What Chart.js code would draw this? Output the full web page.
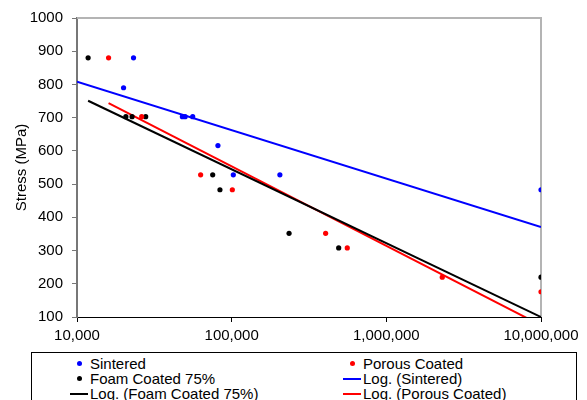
<!DOCTYPE html>
<html>
<head>
<meta charset="utf-8">
<script src="https://cdn.jsdelivr.net/npm/chart.js@4.4.1/dist/chart.umd.min.js"></script>
<style>
  html, body { margin: 0; padding: 0; background: #fff; }
  #wrap { position: relative; width: 587px; height: 400px; overflow: hidden; }
  #legend {
    position: absolute; left: 31px; top: 352px; width: 546px; height: 60px;
    border: 1px solid #000; box-sizing: border-box; background: #fff;
    font: 15px 'Liberation Sans', Arial, sans-serif; color: #000;
  }
  .lg-text { position: absolute; height: 15px; line-height: 15px; white-space: nowrap; }
  .lg-dot { position: absolute; width: 5px; height: 5px; border-radius: 50%; }
  .lg-line { position: absolute; width: 18px; height: 2px; }
</style>
</head>
<body>
<div id="wrap">
  <canvas id="fatigueChart" width="587" height="400"></canvas>
  <div id="legend"></div>
</div>
<script>
const xTicks = [10000, 100000, 1000000, 10000000]

const sinteredCycles = [20000, 23200, 48000, 50000, 56000, 81500, 102500, 205000, 10000000]
const sinteredStress = [790, 880, 703, 703, 703, 616, 528, 528, 483]

const porousCycles = [16000, 26200, 63000, 101000, 405000, 559000, 2300000, 10000000]
const porousStress = [880, 703, 528, 483, 352, 308, 220, 176]

const foamCycles = [11800, 20700, 22700, 27800, 75400, 84000, 235000, 492000, 10000000]
const foamStress = [880, 703, 703, 703, 528, 483, 352, 308, 220]

// log trendline end points
const sinteredFitCycles = [10000, 10000000]
const sinteredFitStress = [808, 371]
const foamFitCycles = [11800, 10000000]
const foamFitStress = [751, 100]
const porousFitCycles = [16000, 10000000]
const porousFitStress = [744, 75]

const toPoints = (xs, ys) => xs.map((x, i) => ({ x, y: ys[i] }))

const font = { family: "'Liberation Sans', Arial, sans-serif", size: 15 }

const plotFrame = {
  id: 'plotFrame',
  beforeDatasetsDraw(chart) {
    const { ctx, chartArea } = chart
    ctx.save()
    ctx.strokeStyle = '#b4b4b4'
    ctx.lineWidth = 2
    ctx.beginPath()
    ctx.moveTo(chartArea.left, chartArea.top)
    ctx.lineTo(chartArea.right, chartArea.top)
    ctx.lineTo(chartArea.right, chartArea.bottom)
    ctx.stroke()
    ctx.restore()
  },
}

const scatterSet = (label, color, xs, ys) => ({
  label,
  data: toPoints(xs, ys),
  showLine: false,
  backgroundColor: color,
  borderColor: color,
  pointRadius: 2.6,
  pointBorderWidth: 0,
})

const fitSet = (label, color, xs, ys) => ({
  label,
  data: toPoints(xs, ys),
  showLine: true,
  borderColor: color,
  backgroundColor: color,
  borderWidth: 2,
  pointRadius: 0,
})

const chart = new Chart(document.getElementById('fatigueChart'), {
  type: 'scatter',
  data: {
    datasets: [
      scatterSet('Sintered', '#0000ff', sinteredCycles, sinteredStress),
      scatterSet('Porous Coated', '#ff0000', porousCycles, porousStress),
      scatterSet('Foam Coated 75%', '#000000', foamCycles, foamStress),
      fitSet('Log. (Sintered)', '#0000ff', sinteredFitCycles, sinteredFitStress),
      fitSet('Log. (Foam Coated 75%)', '#000000', foamFitCycles, foamFitStress),
      fitSet('Log. (Porous Coated)', '#ff0000', porousFitCycles, porousFitStress),
    ],
  },
  options: {
    responsive: false,
    animation: false,
    layout: { padding: { top: 16, right: 46, left: 0, bottom: 0 } },
    plugins: {
      legend: { display: false },
      tooltip: { enabled: false },
    },
    scales: {
      x: {
        type: 'logarithmic',
        min: 10000,
        max: 10000000,
        afterBuildTicks(scale) {
          scale.ticks = xTicks.map((value) => ({ value }))
        },
        afterFit(scale) {
          scale.height = 83
        },
        ticks: {
          autoSkip: false,
          maxRotation: 0,
          padding: 5,
          color: '#000',
          font,
          callback: (value) => Number(value).toLocaleString('en-US'),
        },
        grid: { drawOnChartArea: false, tickLength: 5, color: '#000' },
        border: { color: '#000', width: 1 },
      },
      y: {
        min: 100,
        max: 1000,
        afterFit(scale) {
          scale.width = 77
        },
        ticks: {
          stepSize: 100,
          padding: 9,
          color: '#000',
          font,
          callback: (value) => String(value),
        },
        grid: { drawOnChartArea: false, tickLength: 5, color: '#777' },
        border: { color: '#777', width: 2 },
        title: {
          display: true,
          text: 'Stress (MPa)',
          color: '#000',
          font,
          padding: { top: 13, bottom: 0 },
        },
      },
    },
  },
  plugins: [plotFrame],
})

// two-column legend below the plot, built from the datasets
const legend = document.getElementById('legend')
chart.data.datasets.forEach((ds, i) => {
  const col = i % 2
  const row = Math.floor(i / 2)
  const top = 3 + row * 15
  const sampleLeft = col === 0 ? 38 : 311
  const textLeft = col === 0 ? 58 : 331
  if (ds.showLine) {
    const line = document.createElement('div')
    line.className = 'lg-line'
    line.style.left = sampleLeft + 'px'
    line.style.top = top + 7 + 'px'
    line.style.background = ds.borderColor
    legend.appendChild(line)
  } else {
    const dot = document.createElement('div')
    dot.className = 'lg-dot'
    dot.style.left = sampleLeft + 7 + 'px'
    dot.style.top = top + 5 + 'px'
    dot.style.background = ds.backgroundColor
    legend.appendChild(dot)
  }
  const text = document.createElement('div')
  text.className = 'lg-text'
  text.style.left = textLeft + 'px'
  text.style.top = top + 'px'
  text.textContent = ds.label
  legend.appendChild(text)
})
</script>
</body>
</html>
